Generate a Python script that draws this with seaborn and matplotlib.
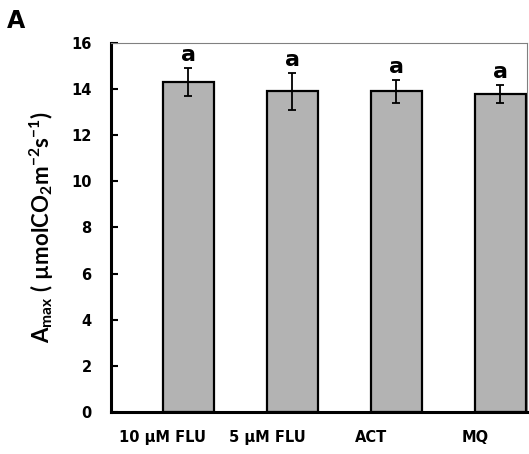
import numpy as np
import pandas as pd
import matplotlib
matplotlib.use("Agg")
import matplotlib.pyplot as plt
import seaborn as sns

# ---- data ----
categories = ["10 μM FLU", "5 μM FLU", "ACT", "MQ"]
amax_mean = [14.3, 13.9, 13.9, 13.8]
amax_err = [0.6, 0.8, 0.5, 0.4]
sig_letters = ["a", "a", "a", "a"]
y_ticks = [0, 2, 4, 6, 8, 10, 12, 14, 16]
series_order = ["blank", "Amax"]

sns.set_theme(style="white")
plt.rcParams["font.family"] = ["DejaVu Sans"]
plt.rcParams["text.color"] = "black"
plt.rcParams["axes.labelcolor"] = "black"
plt.rcParams["xtick.color"] = "black"
plt.rcParams["ytick.color"] = "black"
plt.rcParams["mathtext.fontset"] = "custom"
plt.rcParams["mathtext.rm"] = "Lato:bold"
plt.rcParams["mathtext.it"] = "Lato:bold"
plt.rcParams["mathtext.bf"] = "Lato:bold"

df = pd.DataFrame({
    "treatment": categories + categories,
    "series": [series_order[0]] * len(categories) + [series_order[1]] * len(categories),
    "value": [np.nan] * len(categories) + amax_mean,
})

fig = plt.figure(figsize=(5.29, 4.54), dpi=100)
ax = fig.add_axes([0.2098, 0.0925, 0.7864, 0.8128])

sns.barplot(data=df, x="treatment", y="value", hue="series",
            hue_order=series_order, order=categories,
            palette={"blank": "white", "Amax": "#b3b3b3"},
            width=0.98, dodge=True, errorbar=None, saturation=1,
            edgecolor="black", linewidth=1.6, legend=False, ax=ax)

# bar centres of the drawn (real) bars
bars = [p for p in ax.patches if np.isfinite(p.get_height()) and p.get_height() > 0]
bars = sorted(bars, key=lambda p: p.get_x())
xc = [p.get_x() + p.get_width() / 2 for p in bars]

ax.errorbar(xc, amax_mean, yerr=amax_err, fmt="none", ecolor="black",
            elinewidth=1.3, capsize=3, capthick=1.3, zorder=5)

for x, m, e, s in zip(xc, amax_mean, amax_err, sig_letters):
    ax.annotate(s, (x, m + e), xytext=(0, 5), textcoords="offset points",
                ha="center", va="baseline", fontsize=16, fontweight="bold",
                color="black")

ax.set_xlim(-0.5, 3.5)
ax.set_ylim(0, 16)
ax.set_yticks(y_ticks)
ax.set_yticklabels([str(t) for t in y_ticks], fontsize=10.5, fontweight="bold")
for lab in ax.get_xticklabels():
    lab.set_fontweight("bold")
    lab.set_fontsize(10.5)
ax.set_xlabel("")
ax.set_ylabel(r"$\mathrm{A_{max}\ (\ µmolCO_2m^{-2}s^{-1})}$", fontsize=16, labelpad=11)

ax.tick_params(axis="y", direction="in", length=5, width=1.5, color="black", left=True, pad=14)
ax.tick_params(axis="x", length=0, pad=13)

for side in ["left", "bottom"]:
    ax.spines[side].set_color("black")
    ax.spines[side].set_linewidth(2.2)
for side in ["top", "right"]:
    ax.spines[side].set_color("#808080")
    ax.spines[side].set_linewidth(0.8)

fig.text(7 / 529, 1 - 9 / 454, "A", fontsize=17, fontweight="bold",
         family="DejaVu Sans", color="black", ha="left", va="top")

fig.savefig("out.png", dpi=100)
